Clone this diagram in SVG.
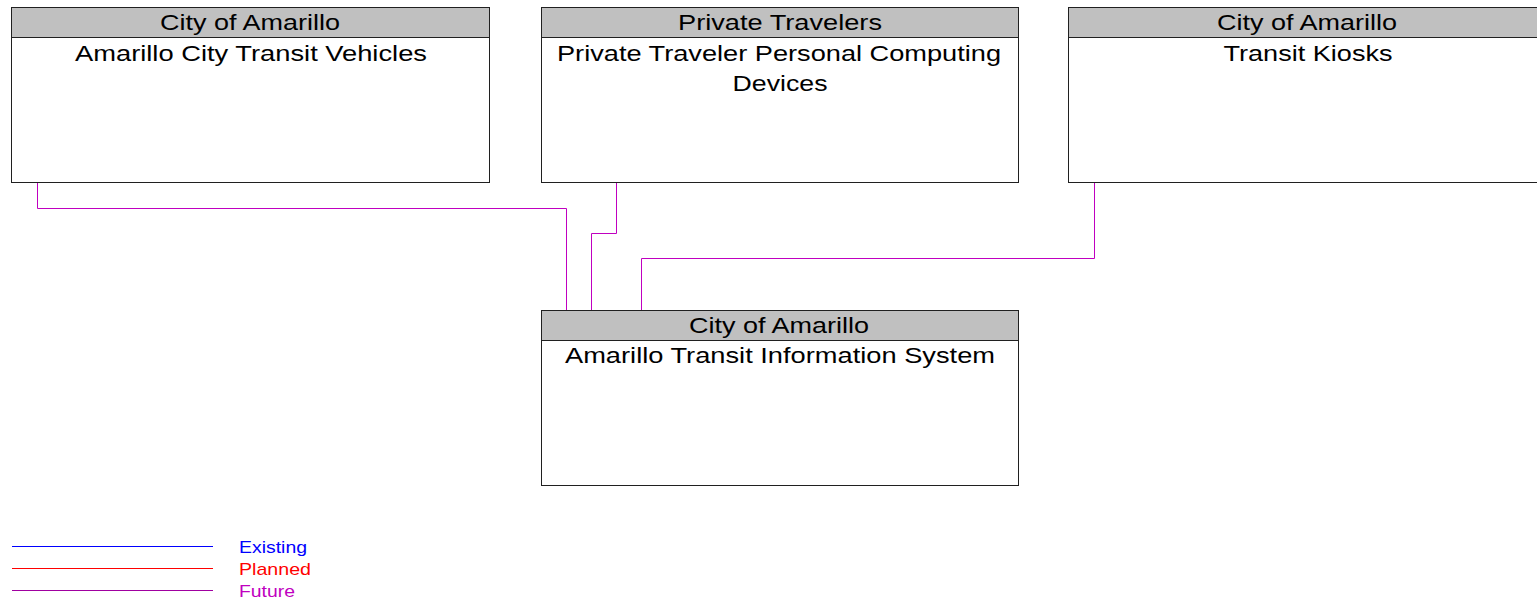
<svg xmlns="http://www.w3.org/2000/svg" width="1537" height="603" viewBox="0 0 1537 603">
<style>
.box{fill:#fff;stroke:#202020;stroke-width:1}
.hdr{fill:#c0c0c0;stroke:#202020;stroke-width:1}
.t{font-family:"Liberation Sans",Arial,sans-serif;font-size:22px;fill:#000;text-anchor:middle}
.c{fill:none;stroke:#c000c0;stroke-width:1}
.lg{font-family:"Liberation Sans",Arial,sans-serif;font-size:17px}
</style>
<rect width="1537" height="603" fill="#fff"/>
<g id="connectors">
<polyline class="c" points="37.5,182 37.5,208.5 566.5,208.5 566.5,310"/>
<polyline class="c" points="616.5,182 616.5,233.5 591.5,233.5 591.5,310"/>
<polyline class="c" points="1094.5,182 1094.5,258.5 641.5,258.5 641.5,310"/>
</g>
<g id="node1">
<rect class="box" x="11.5" y="7.5" width="478" height="175"/>
<rect class="hdr" x="11.5" y="7.5" width="478" height="30"/>
<text class="t" x="250" y="30" textLength="180" lengthAdjust="spacingAndGlyphs">City of Amarillo</text>
<text class="t" x="251" y="61" textLength="352" lengthAdjust="spacingAndGlyphs">Amarillo City Transit Vehicles</text>
</g>
<g id="node2">
<rect class="box" x="541.5" y="7.5" width="477" height="175"/>
<rect class="hdr" x="541.5" y="7.5" width="477" height="30"/>
<text class="t" x="780" y="30" textLength="204" lengthAdjust="spacingAndGlyphs">Private Travelers</text>
<text class="t" x="779" y="61" textLength="444" lengthAdjust="spacingAndGlyphs">Private Traveler Personal Computing</text>
<text class="t" x="780" y="91" textLength="95" lengthAdjust="spacingAndGlyphs">Devices</text>
</g>
<g id="node3">
<rect class="box" x="1068.5" y="7.5" width="478" height="175"/>
<rect class="hdr" x="1068.5" y="7.5" width="478" height="30"/>
<text class="t" x="1307" y="30" textLength="180" lengthAdjust="spacingAndGlyphs">City of Amarillo</text>
<text class="t" x="1308" y="61" textLength="169" lengthAdjust="spacingAndGlyphs">Transit Kiosks</text>
</g>
<g id="node4">
<rect class="box" x="541.5" y="310.5" width="477" height="175"/>
<rect class="hdr" x="541.5" y="310.5" width="477" height="30"/>
<text class="t" x="779" y="333" textLength="180" lengthAdjust="spacingAndGlyphs">City of Amarillo</text>
<text class="t" x="780" y="363" textLength="430" lengthAdjust="spacingAndGlyphs">Amarillo Transit Information System</text>
</g>
<g id="legend">
<line x1="12" y1="546.5" x2="213" y2="546.5" stroke="#0000ff"/>
<line x1="12" y1="568.5" x2="213" y2="568.5" stroke="#ff0000"/>
<line x1="12" y1="590.5" x2="213" y2="590.5" stroke="#a000a0"/>
<text class="lg" x="239" y="553" fill="#0000ff" textLength="68" lengthAdjust="spacingAndGlyphs">Existing</text>
<text class="lg" x="239" y="575" fill="#ff0000" textLength="72" lengthAdjust="spacingAndGlyphs">Planned</text>
<text class="lg" x="239" y="597" fill="#c000c0" textLength="56" lengthAdjust="spacingAndGlyphs">Future</text>
</g>
</svg>
